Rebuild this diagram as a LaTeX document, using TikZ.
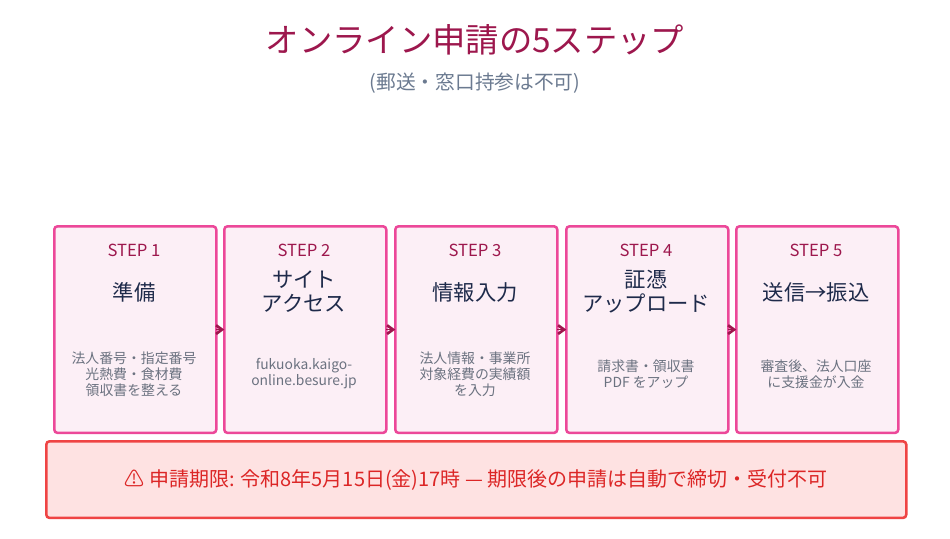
\documentclass[tikz,border=0pt]{standalone}
\usepackage{fontspec}
\setmainfont{Noto Sans CJK JP}
\usetikzlibrary{arrows.meta}
\definecolor{ttl}{HTML}{9D174D}
\definecolor{sub}{HTML}{6B7A90}
\definecolor{bfill}{HTML}{FCEFF6}
\definecolor{bdraw}{HTML}{EC4899}
\definecolor{dark}{HTML}{1E2A4A}
\definecolor{desc}{HTML}{6B7280}
\definecolor{wfill}{HTML}{FEE2E2}
\definecolor{wdraw}{HTML}{EF4444}
\definecolor{wtext}{HTML}{DC2626}
\begin{document}
\begin{tikzpicture}[x=0.75pt,y=-0.75pt,
  box/.style={draw=bdraw,fill=bfill,line width=1.9pt,rounded corners=2.5pt,minimum width=121.5pt,minimum height=155pt,anchor=north west,inner sep=0pt},
  stp/.style={text=ttl,font=\fontsize{12.5}{14}\selectfont},
  hd/.style={text=dark,font=\fontsize{16}{18}\selectfont,align=center},
  ds/.style={text=desc,font=\fontsize{10.4}{12}\selectfont,align=center},
  arr/.style={-{Straight Barb[length=4.5pt,width=6.5pt,line width=2pt]},draw=ttl,line width=1.2pt,shorten <=-1pt,shorten >=-1pt}]
\useasboundingbox (0,0) rectangle (950,539);
\fill[white] (0,0) rectangle (950,539);
\node[text=ttl,font=\fontsize{25}{28}\selectfont] (t) at (475,40) {オンライン申請の5ステップ};
\node[text=sub,font=\fontsize{14.8}{17}\selectfont] (s) at (475,83) {(郵送・窓口持参は不可)};
\foreach \i/\x in {1/53,2/223,3/394,4/565,5/735}{
  \node[box] (b\i) at (\x,225) {};
  \node[stp] (st\i) at (\x+81,250) {STEP \i};
}
\node[hd] (h1) at (134,292) {準備};
\node[hd] (h2) at (304,292) {サイト\\アクセス};
\node[hd] (h3) at (475,292) {情報入力};
\node[hd] (h4) at (646,292) {証憑\\アップロード};
\node[hd] (h5) at (816,292) {送信→振込};
\node[ds] (d1) at (134,374) {法人番号・指定番号\\光熱費・食材費\\領収書を整える};
\node[ds] (d2) at (304,374) {fukuoka.kaigo-\\online.besure.jp};
\node[ds] (d3) at (475,374) {法人情報・事業所\\対象経費の実績額\\を入力};
\node[ds] (d4) at (646,374) {請求書・領収書\\PDF をアップ};
\node[ds] (d5) at (816,374) {審査後、法人口座\\に支援金が入金};
\foreach \a/\b in {1/2,2/3,3/4,4/5}{
  \draw[arr] (b\a.east) -- (b\b.west);
}
\node[draw=wdraw,fill=wfill,line width=1.9pt,rounded corners=2.5pt,minimum width=645pt,minimum height=57.5pt,anchor=north west,inner sep=0pt] (w) at (45,440) {};
\node[text=wtext,font=\fontsize{15}{17}\selectfont] (wt) at (w.center) {⚠ 申請期限: 令和8年5月15日(金)17時 — 期限後の申請は自動で締切・受付不可};
\end{tikzpicture}
\end{document}
